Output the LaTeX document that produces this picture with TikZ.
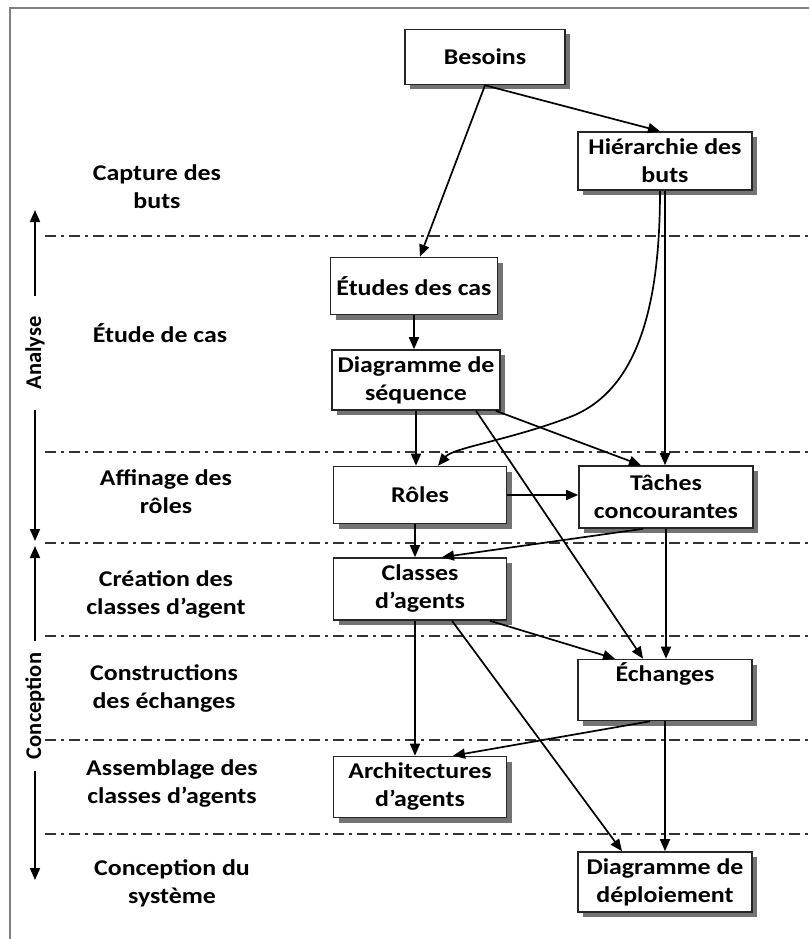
\documentclass[tikz,border=0pt]{standalone}
\usepackage{fontspec}
\setmainfont{Carlito}[FakeStretch=1.15]
\newfontfamily\rotfont{Carlito}
\usetikzlibrary{arrows.meta,shadows}
\begin{document}
\begin{tikzpicture}[x=1pt,y=-1pt,
  font=\fontsize{22.5}{28}\selectfont\bfseries,
  boite/.style={draw=black!85,line width=1.6pt,fill=white,align=center,inner sep=2pt,
    drop shadow={shadow xshift=5pt,shadow yshift=-5pt,fill=black!55,opacity=1}},
  etiq/.style={align=center},
  phase/.style={rotate=90,font=\rotfont\fontsize{22.5}{28}\selectfont\bfseries},
  fl/.style={-{Triangle[length=12pt,width=10pt]},line width=1.7pt},
  sep/.style={line width=1.6pt,black!80,dash pattern=on 11pt off 5pt on 3pt off 5pt}]
\useasboundingbox (0,0) rectangle (809,939);
\draw [black!50,line width=1.8pt] (10,939) -- (10,8) -- (809,8);
\foreach \y in {236,452,543,636,740,834} {\draw [sep] (45,\y) -- (809,\y);}

\node [phase,inner xsep=20pt] (analyse) at (35,353) {Analyse};
\coordinate (anahaut) at (35,210);
\coordinate (anabas) at (35,541);
\draw [fl] (analyse.east) -- (anahaut);
\draw [fl] (analyse.west) -- (anabas);
\node [phase,inner xsep=12pt] (conception) at (35,706) {Conception};
\coordinate (conhaut) at (35,546);
\coordinate (conbas) at (35,880);
\draw [fl] (conception.east) -- (conhaut);
\draw [fl] (conception.west) -- (conbas);

\node [etiq] (capture) at (157,187) {Capture des\\buts};
\node [etiq] (etude) at (160,333) {Étude de cas};
\node [etiq] (affinage) at (166,492) {Affinage des\\rôles};
\node [etiq] (creation) at (166,594) {Création des\\classes d’agent};
\node [etiq] (constr) at (164,688) {Constructions\\des échanges};
\node [etiq] (assemb) at (172,784) {Assemblage des\\classes d’agents};
\node [etiq] (concsys) at (172,883) {Conception du\\système};

\node [boite,minimum width=160pt,minimum height=55pt] (besoins) at (485,57) {Besoins};
\node [boite,minimum width=174pt,minimum height=58pt] (hier) at (665,161) {Hiérarchie des\\buts};
\node [boite,minimum width=167pt,minimum height=57pt] (etudes) at (414,286) {Études des cas};
\node [boite,minimum width=168pt,minimum height=60pt] (diag) at (416,380) {Diagramme de\\séquence};
\node [boite,minimum width=173pt,minimum height=57pt] (roles) at (420,495) {Rôles};
\node [boite,minimum width=174pt,minimum height=62pt] (taches) at (666,497) {Tâches\\concourantes};
\node [boite,minimum width=173pt,minimum height=62pt] (classes) at (420,589) {Classes\\d’agents};
\node [boite,minimum width=174pt,minimum height=61pt] (echanges) at (665,690) {Échanges\\\strut};
\node [boite,minimum width=173pt,minimum height=61pt] (archi) at (420,787) {Architectures\\d’agents};
\node [boite,minimum width=174pt,minimum height=60pt] (deploi) at (665,882) {Diagramme de\\déploiement};

\draw [fl] (besoins.south) -- ([xshift=6pt]etudes.north);
\draw [fl] (besoins.south) -- ([xshift=-5pt]hier.north);
\draw [fl] (hier.south) -- (hier.south |- taches.north);
\coordinate (coude) at (570,417);
\draw [fl] ([xshift=-5pt]hier.south) .. controls +(0,110) and +(70,-27) .. (coude) .. controls +(-60,23) and +(15,-18) .. ([xshift=18pt]roles.north);
\draw [fl] (etudes.south) -- (etudes.south |- diag.north);
\draw [fl] (diag.south) -- (diag.south |- roles.north);
\draw [fl] ([xshift=-5pt]diag.south east) -- ([xshift=-25pt]taches.north);
\draw [fl] ([xshift=60pt]diag.south) -- ([xshift=-22pt]echanges.north);
\draw [fl] (roles.east) -- (roles.east -| taches.west);
\draw [fl] ([xshift=-5pt]roles.south) -- ([xshift=-5pt]classes.north);
\draw [fl] ([xshift=-23pt]taches.south) -- ([xshift=22pt]classes.north);
\draw [fl] (taches.south) -- (taches.south |- echanges.north);
\draw [fl] ([xshift=-5pt]classes.south) -- ([xshift=-5pt]archi.north);
\draw [fl] ([xshift=70pt]classes.south) -- ([xshift=-50pt]echanges.north);
\draw [fl] ([xshift=32pt]classes.south) -- ([xshift=-43pt]deploi.north);
\draw [fl] ([xshift=-15pt]echanges.south) -- ([xshift=33pt]archi.north);
\draw [fl] (echanges.south) -- (deploi.north);
\end{tikzpicture}
\end{document}
